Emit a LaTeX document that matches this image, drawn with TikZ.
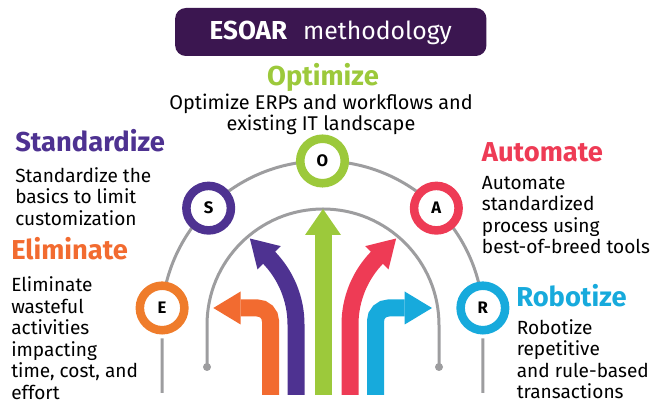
\documentclass[tikz,border=0pt]{standalone}
\usepackage{fontspec}
\setmainfont{Fira Sans}
\usetikzlibrary{positioning, arrows.meta}

\definecolor{titlePurple}{HTML}{3B1650}
\definecolor{sPurple}{HTML}{4E3291}
\definecolor{oGreen}{HTML}{9CC93B}
\definecolor{aRed}{HTML}{EE3B55}
\definecolor{rBlue}{HTML}{17AADC}
\definecolor{eOrange}{HTML}{F26B30}
\definecolor{eRing}{HTML}{EF7C2B}
\definecolor{guideGray}{HTML}{9D9D9F}

\tikzset{
    guide/.style={draw=guideGray, line width=2.25pt},
    ring/.style={circle, draw=#1, line width=6.4pt, fill=white, minimum size=33.4pt,
        inner sep=0pt, font=\fontsize{12.5}{14}\selectfont\bfseries},
    heading/.style={anchor=base west, inner sep=0pt, text=#1,
        font=\fontsize{20.5}{22}\selectfont\bfseries},
    % anchored at the baseline of the last line
    blurb/.style={anchor=base west, inner sep=0pt, align=left,
        font=\fontsize{14.3}{16.2}\selectfont},
    way/.style={draw=#1, line width=12.75pt,
        -{Triangle[length=20.5pt, width=24.75pt, line width=0pt]}},
}

\begin{document}
\begin{tikzpicture}[x=0.75pt, y=0.75pt]
    \useasboundingbox (0,0) rectangle (651,403);

    % title banner
    \node[fill=titlePurple, rounded corners=8pt, minimum width=233.5pt, minimum height=36pt,
        text=white, font=\fontsize{18.6}{20}\selectfont, text height=13pt, text depth=1pt]
        (title) at (330.8,371) {{\fontsize{19.5}{20}\selectfont\bfseries ESOAR}\hspace{12pt}methodology};

    % guide arcs
    \coordinate (hub) at (322.5,81);
    \coordinate (Ebot) at (162.1,10);
    \coordinate (Rbot) at (482.9,10);
    \coordinate (dotL) at (207,36);
    \coordinate (dotR) at (439,36);
    \draw[guide] ([shift={(hub)}]175:161) arc[start angle=175, end angle=5, radius=161];
    \draw[guide] (dotL) -- ++(0,42) arc[start angle=180, end angle=0, radius=116] -- (dotR);
    \fill[guideGray] (dotL) circle (4) (dotR) circle (4);

    % letters on the arc
    \node[ring=eRing] (E) at ([shift={(hub)}]175:161) {E};
    \node[ring=sPurple] (S) at ([shift={(hub)}]135:161) {S};
    \node[ring=oGreen] (O) at ([shift={(hub)}]90:161) {O};
    \node[ring=aRed] (A) at ([shift={(hub)}]45:161) {A};
    \node[ring=rBlue] (R) at ([shift={(hub)}]5:161) {R};
    \draw[guide, shorten <=3pt] (E.south) -- (Ebot);
    \draw[guide, shorten <=3pt] (R.south) -- (Rbot);

    % arrows
    \draw[way=eOrange] (270.5,8) -- (270.5,82) arc[start angle=0, end angle=90, radius=13] -- (213.3,95);
    \draw[way=sPurple] (296,8) -- (296,78.6) arc[start angle=0, end angle=45, radius=96] -- ++(135:25.5);
    \draw[way=oGreen, -{Triangle[length=19.5pt, width=27pt, line width=0pt]}] (323,8) -- (323,194);
    \draw[way=aRed] (350,8) -- (350,78.6) arc[start angle=180, end angle=135, radius=96] -- ++(45:25.5);
    \draw[way=rBlue] (375.5,8) -- (375.5,82) arc[start angle=180, end angle=90, radius=13] -- (432,95);

    % texts
    \node[anchor=base, inner sep=0pt, text=oGreen, font=\fontsize{20.5}{22}\selectfont\bfseries]
        (optHead) at (323,317.3) {Optimize};
    \node[anchor=base, inner sep=0pt, align=center, font=\fontsize{14.9}{16}\selectfont]
        (optText) at (321,272) {Optimize ERPs and workflows and\\existing IT landscape};

    \node[heading=sPurple] (stdHead) at (15,251.3) {Standardize};
    \node[blurb] (stdText) at (15,177.7) {Standardize the\\basics to limit\\customization};

    \node[heading=eOrange] (elimHead) at (11,143) {Eliminate};
    \node[blurb] (elimText) at (11,3.5) {Eliminate\\wasteful\\activities\\impacting\\time, cost, and\\effort};

    \node[heading=aRed] (autoHead) at (481.7,241.3) {Automate};
    \node[blurb] (autoText) at (481.7,149) {Automate\\standardized\\process using\\best-of-breed tools};

    \node[heading=rBlue] (robHead) at (516,96.3) {Robotize};
    \node[blurb] (robText) at (516.5,4) {Robotize\\repetitive\\and rule-based\\transactions};
\end{tikzpicture}
\end{document}
